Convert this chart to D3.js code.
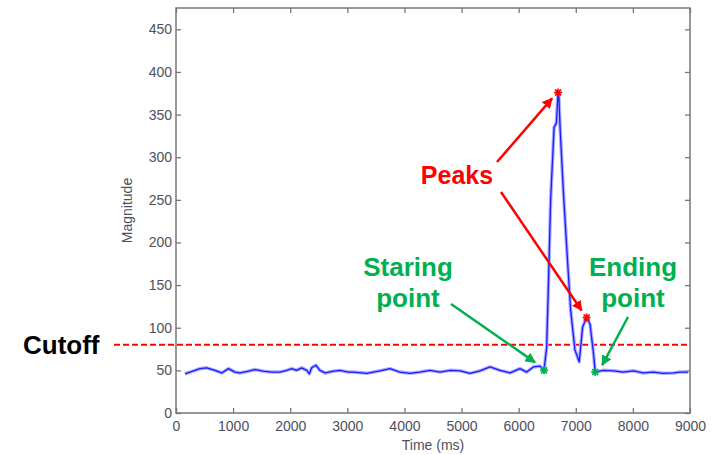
<!DOCTYPE html>
<html lang="en">
<head>
<meta charset="UTF-8">
<title>Magnitude vs time</title>
<script src="https://cdnjs.cloudflare.com/ajax/libs/d3/7.8.5/d3.min.js"></script>
<style>
    body { margin: 0; background: white; }
    svg { font-family: Arial, "Liberation Sans", sans-serif; }
    .tick text { fill: #4f4f5c; font-size: 14px; }
    .tick line { stroke: #777; stroke-width: 1.3; }
</style>
</head>
<body>
<svg id="chart" width="718" height="455"></svg>
<script>
    // signal
    const times = [158, 245, 420, 537, 683, 800, 917, 1033, 1120, 1267, 1383, 1529, 1675, 1820,
        1938, 2026, 2110, 2200, 2290, 2335, 2375, 2450, 2520, 2610, 2755, 2870, 3015, 3105,
        3339, 3572, 3747, 3922, 4097, 4272, 4447, 4623, 4798, 4973, 5148, 5323, 5498, 5673,
        5848, 6023, 6140, 6257, 6374, 6444, 6490, 6520, 6560, 6620, 6660, 6690, 6705, 6725,
        6785, 6855, 6910, 6985, 7060, 7120, 7190, 7250, 7310, 7340, 7483, 7658, 7833, 8008,
        8183, 8358, 8533, 8708, 8825, 8970];
    const magnitude = [46, 48, 52, 53, 50, 47, 52, 48, 47, 49, 51, 49, 48, 48,
        50, 52, 50, 53, 50, 46, 53, 56, 50, 47, 49, 50, 48, 48,
        46.5, 49.5, 52, 48, 46.5, 48, 50, 48, 50, 49.5, 46.5, 49.5, 54, 50,
        47, 52, 48, 54, 55, 50, 77, 148, 250, 335, 340, 376, 370, 335,
        257, 179, 121, 74, 60, 101, 112, 104, 70, 48, 50, 49.5, 48, 49.5,
        47, 48, 46.5, 47, 48, 48];

    const peaks = [{t: 6690, v: 376}, {t: 7190, v: 112}];
    const endpoints = [{t: 6444, v: 50}, {t: 7340, v: 48}];
    const cutoff = 80;

    const xTicks = [0, 1000, 2000, 3000, 4000, 5000, 6000, 7000, 8000, 9000];
    const yTicks = [0, 50, 100, 150, 200, 250, 300, 350, 400, 450];

    const red = "#ff0000", green = "#00b050";

    const svg = d3.select("#chart");
    const plotL = 176, plotR = 690, plotT = 8, plotB = 413;

    const x = d3.scaleLinear().domain([0, 9000]).range([plotL, plotR]);
    const y = d3.scaleLinear().domain([0, 475]).range([plotB, plotT]);

    // axes, ticks pointing inward on all four sides
    svg.append("g").attr("transform", `translate(0,${plotB})`)
        .call(d3.axisBottom(x).tickValues(xTicks).tickFormat(d3.format("d")).tickSize(-5).tickPadding(8));
    svg.append("g").attr("transform", `translate(${plotL},0)`)
        .call(d3.axisLeft(y).tickValues(yTicks).tickFormat(d3.format("d")).tickSize(-5).tickPadding(4));
    svg.append("g").attr("transform", `translate(0,${plotT})`)
        .call(d3.axisTop(x).tickValues(xTicks).tickSize(-5).tickFormat(""));
    svg.append("g").attr("transform", `translate(${plotR},0)`)
        .call(d3.axisRight(y).tickValues(yTicks).tickSize(-5).tickFormat(""));
    svg.selectAll(".domain").remove();

    svg.append("rect")
        .attr("x", plotL).attr("y", plotT)
        .attr("width", plotR - plotL).attr("height", plotB - plotT)
        .attr("fill", "none").attr("stroke", "#777").attr("stroke-width", 1.5);

    svg.append("text")
        .attr("x", (plotL + plotR) / 2).attr("y", 450)
        .attr("text-anchor", "middle").attr("fill", "#4f4f5c").attr("font-size", 14)
        .text("Time (ms)");
    svg.append("text")
        .attr("transform", `translate(132,${(plotT + plotB) / 2}) rotate(-90)`)
        .attr("text-anchor", "middle").attr("fill", "#4f4f5c").attr("font-size", 14)
        .text("Magnitude");

    // cutoff line
    svg.append("line")
        .attr("x1", 114).attr("x2", plotR)
        .attr("y1", y(cutoff)).attr("y2", y(cutoff))
        .attr("stroke", red).attr("stroke-width", 2).attr("stroke-dasharray", "6,3");
    svg.append("text")
        .attr("x", 23).attr("y", 354)
        .attr("font-size", 26).attr("font-weight", "bold").attr("fill", "#000")
        .text("Cutoff");

    // the signal, with a soft halo
    const data = times.map((t, i) => ({t: t, v: magnitude[i]}));
    const line = d3.line().x(d => x(d.t)).y(d => y(d.v));
    svg.append("path").datum(data).attr("d", line)
        .attr("fill", "none").attr("stroke", "#a9adff").attr("stroke-width", 3.5)
        .attr("stroke-linejoin", "round");
    svg.append("path").datum(data).attr("d", line)
        .attr("fill", "none").attr("stroke", "#1c1cff").attr("stroke-width", 1.3)
        .attr("stroke-linejoin", "round");

    // star markers
    function star(sel, pts, color) {
        const g = sel.append("g").selectAll("g").data(pts).enter().append("g")
            .attr("transform", d => `translate(${x(d.t)},${y(d.v)})`);
        g.append("circle").attr("r", 3.5).attr("fill", color).attr("opacity", 0.35);
        g.append("path").attr("d", "M-4,0H4M0,-4V4M-3,-3L3,3M-3,3L3,-3")
            .attr("stroke", color).attr("stroke-width", 1.5);
    }
    star(svg, peaks, red);
    star(svg, endpoints, green);

    // arrows
    const defs = svg.append("defs");
    [["r", red], ["g", green]].forEach(function(c) {
        defs.append("marker").attr("id", "head-" + c[0])
            .attr("viewBox", "0 0 10 10").attr("refX", 9).attr("refY", 5)
            .attr("markerWidth", 4.2).attr("markerHeight", 4.2)
            .attr("markerUnits", "strokeWidth").attr("orient", "auto")
            .append("path").attr("d", "M0,0L10,5L0,10Z").attr("fill", c[1]);
    });

    function arrow(x1, y1, pt, dx, dy, color, id) {
        svg.append("line")
            .attr("x1", x1).attr("y1", y1)
            .attr("x2", x(pt.t) + dx).attr("y2", y(pt.v) + dy)
            .attr("stroke", color).attr("stroke-width", 2.5)
            .attr("marker-end", `url(#head-${id})`);
    }
    arrow(497, 162, peaks[0], -6, 6, red, "r");
    arrow(501, 192, peaks[1], -5, -7, red, "r");
    arrow(451, 304, endpoints[0], -9, -8, green, "g");
    arrow(628, 317, endpoints[1], 7, -7, green, "g");

    function label(lines, cx, y0, color, size) {
        const t = svg.append("text").attr("text-anchor", "middle")
            .attr("font-size", size).attr("font-weight", "bold").attr("fill", color);
        lines.forEach(function(s, i) {
            t.append("tspan").attr("x", cx).attr("y", y0 + i * 31).text(s);
        });
    }
    label(["Peaks"], 457, 184, red, 25);
    label(["Staring", "point"], 408, 276, green, 26);
    label(["Ending", "point"], 633, 276, green, 26);
</script>
</body>
</html>
